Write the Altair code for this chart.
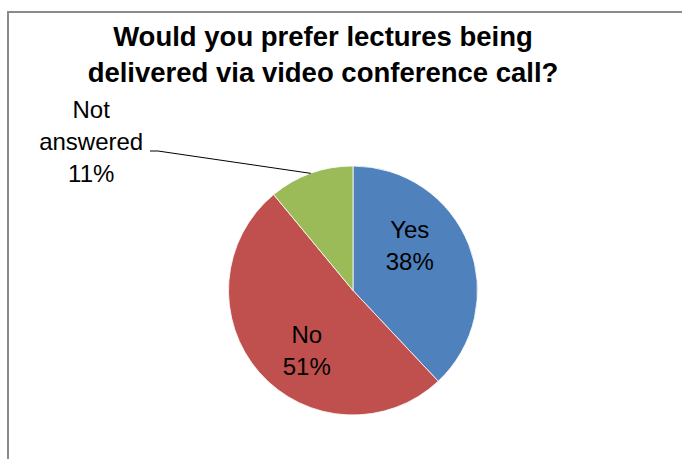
import math
import altair as alt
import pandas as pd

# ---- data ----
categories = ["Yes", "No", "Not answered"]
percent = [38, 51, 11]
colors = ["#4F81BD", "#C0504D", "#9BBB59"]
title_lines = ["Would you prefer lectures being", "delivered via video conference call?"]

# ---- layout constants ----
W, H = 682, 459
CX, CY, R = 353, 290.5, 124.5
FONT = "Liberation Sans"
TOTAL = sum(percent)

df = pd.DataFrame({
    "label": categories,
    "value": percent,
    "order": list(range(len(categories))),
})
df["text"] = [c.replace(" ", "\n") + "\n" + f"{v}%" for c, v in zip(categories, percent)]

pie = alt.Chart(df).mark_arc(outerRadius=R, stroke="#ffffff", strokeWidth=0.8).encode(
    theta=alt.Theta("value:Q", stack=True),
    order=alt.Order("order:Q"),
    x=alt.value(CX), y=alt.value(CY),
    color=alt.Color("label:N", scale=alt.Scale(domain=categories, range=colors), legend=None),
)

# label base: mid-angle of each slice computed with the data's own cumulative sums
lab_base = alt.Chart(df).transform_window(
    cum="sum(value)", sort=[alt.SortField("order")], frame=[None, 0]
).transform_calculate(mid="datum.cum - datum.value / 2")

def label_layer(cat, radius, dx, dy):
    return lab_base.transform_filter(alt.datum.label == cat).mark_text(
        radius=radius, dx=dx, dy=dy, font=FONT, fontSize=24, lineBreak="\n",
        lineHeight=32, baseline="middle", align="center", color="#000000",
    ).encode(
        theta=alt.Theta("mid:Q", stack=None,
                        scale=alt.Scale(domain=[0, TOTAL], range=[0, 2 * math.pi])),
        x=alt.value(CX), y=alt.value(CY), text="text:N",
    )

labels = (
    label_layer("Yes", 75, -13, -32)
    + label_layer("No", 75, 10, -4)
    + label_layer("Not answered", 150, -211, -38)
)

# leader line for the "Not answered" label: ends on the pie edge at slice mid-angle
cum = 0
mid = None
for c, v in zip(categories, percent):
    if c == "Not answered":
        mid = (cum + v / 2) / TOTAL * 2 * math.pi
    cum += v
ex = CX + R * math.sin(mid)
ey = CY - R * math.cos(mid)
leader_df = pd.DataFrame({"x": [150, 158, ex], "y": [151, 151, ey], "o": [0, 1, 2]})
leader = alt.Chart(leader_df).mark_line(color="#000000", strokeWidth=1).encode(
    x=alt.X("x:Q", scale=None, axis=None),
    y=alt.Y("y:Q", scale=None, axis=None),
    order="o:Q",
)

title_df = pd.DataFrame({"t": [0]})
title = alt.Chart(title_df).mark_text(
    text=title_lines, font=FONT, fontSize=27.5, fontWeight="bold", lineHeight=36,
    baseline="alphabetic", align="center", color="#000000",
).encode(x=alt.value(323), y=alt.value(46))

border = alt.Chart(title_df).mark_rect(
    fill=None, stroke="#8a8a8a", strokeWidth=2,
).encode(x=alt.value(8), y=alt.value(12), x2=alt.value(W + 40), y2=alt.value(H + 40))

chart = alt.layer(border, pie, leader, labels, title).properties(
    width=W, height=H, background="#ffffff", padding=0,
    autosize=alt.AutoSizeParams(type="none"),
).configure_view(stroke=None)

chart.save("out.html", embed_options={"renderer": "svg", "actions": False})
